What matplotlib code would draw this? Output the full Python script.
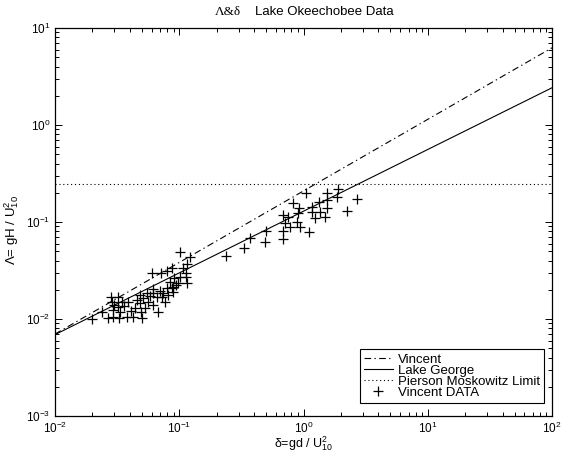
import matplotlib
matplotlib.use('Agg')
import matplotlib.pyplot as plt
import numpy as np

plt.rcParams['font.family'] = ['Liberation Sans', 'DejaVu Sans']
plt.rcParams['mathtext.fontset'] = 'custom'
plt.rcParams['mathtext.rm'] = 'Liberation Sans'
plt.rcParams['mathtext.it'] = 'Liberation Sans'

# fitted curves, read at the two ends of the x range
curve_x = [0.01, 100.0]
vincent_y = [0.0070, 6.25]
lake_george_y = [0.0069, 2.42]
pm_limit = 0.245

# Vincent DATA (delta, lambda)
data_delta = [
    0.0199, 0.0239, 0.0265, 0.0282, 0.0285, 0.0298, 0.0295, 0.0295, 0.0320, 0.0323,
    0.0327, 0.0334, 0.0359, 0.0344, 0.0378, 0.0389, 0.0409, 0.0427, 0.0441, 0.0455,
    0.0483, 0.0483, 0.0492, 0.0501, 0.0514, 0.0530, 0.0547, 0.0564, 0.0582, 0.0609,
    0.0618, 0.0618, 0.0618, 0.0658, 0.0678, 0.0713, 0.0700, 0.0722, 0.0744, 0.0768,
    0.0804, 0.0804, 0.0816, 0.0843, 0.0869, 0.0869, 0.0907, 0.0895, 0.0895, 0.0941,
    0.0982, 0.1005, 0.1078, 0.1148, 0.1133, 0.1123, 0.1148, 0.1014, 0.1220,
    0.238, 0.332, 0.371, 0.490, 0.499, 0.678, 0.687, 0.678, 0.757, 0.778,
    0.709, 0.828, 0.895, 0.921, 0.881, 0.938, 1.047, 1.114, 1.164, 1.181,
    1.238, 1.340, 1.358, 1.476, 1.537, 1.555, 1.537, 1.905, 1.845, 2.228, 2.671,
]
data_lambda = [
    0.0100, 0.01167, 0.01036, 0.01698, 0.01508, 0.01394, 0.01239, 0.01056, 0.01666, 0.01339,
    0.01036, 0.01190, 0.01361, 0.01508, 0.01061, 0.01508, 0.01195, 0.01056, 0.01290, 0.01570,
    0.01767, 0.01452, 0.01167, 0.01036, 0.01634, 0.01290, 0.01841, 0.01508, 0.01726, 0.02958,
    0.02023, 0.01841, 0.01394, 0.01666, 0.01190, 0.02958, 0.01945, 0.01698, 0.01841, 0.01508,
    0.03126, 0.02089, 0.01767, 0.02425, 0.03334, 0.02089, 0.02648, 0.02153, 0.01910, 0.02243,
    0.02333, 0.02679, 0.03334, 0.03688, 0.02958, 0.02679, 0.02333, 0.04909, 0.04355,
    0.0446, 0.0540, 0.0684, 0.0626, 0.0808, 0.0813, 0.0663, 0.1167, 0.1126, 0.0888,
    0.0984, 0.157, 0.124, 0.1385, 0.1007, 0.0878, 0.2005, 0.0794, 0.1438, 0.1268,
    0.1092, 0.1607, 0.1277, 0.1118, 0.141, 0.2005, 0.1686, 0.219, 0.1823, 0.1298, 0.1726,
]

fig = plt.figure(figsize=(5.67, 4.54), dpi=100)
ax = fig.add_axes([55 / 567, 1 - 416 / 454, 497 / 567, 388 / 454])

ax.loglog(curve_x, vincent_y, color='k', lw=0.8, dashes=(6, 3, 1.2, 3), label='Vincent')
ax.loglog(curve_x, lake_george_y, color='k', lw=0.8, label='Lake George')
ax.plot(curve_x, [pm_limit, pm_limit], color='k', lw=0.8, dashes=(1, 2.5),
        label='Pierson Moskowitz Limit')
ax.plot(data_delta, data_lambda, 'k+', ms=6.5, mew=0.9, label='Vincent DATA')

ax.set_xlim(1e-2, 1e2)
ax.set_ylim(1e-3, 1e1)

ax.tick_params(which='both', direction='in', top=True, right=True, labelsize=8.5, width=0.7)
ax.tick_params(which='major', length=5)
ax.tick_params(which='minor', length=3)
for s in ax.spines.values():
    s.set_linewidth(0.9)

ax.set_xlabel(r'$\delta$=gd / U$^2_{10}$', fontsize=9, labelpad=-1)
ax.set_ylabel(r'$\Lambda$= gH / U$^2_{10}$', fontsize=9.5)
ax.yaxis.set_label_coords(-0.068, 0.48)

fig.text(228 / 567, 1 - 12 / 454, 'Λ&δ', family='Liberation Serif', fontsize=9.5,
         ha='center', va='center')
fig.text(324 / 567, 1 - 12 / 454, 'Lake Okeechobee Data', fontsize=9.5,
         ha='center', va='center')

leg = ax.legend(loc='lower right', bbox_to_anchor=(0.984, 0.0335), borderaxespad=0,
                fontsize=9.5, labelspacing=-0.08, handlelength=2.2, handletextpad=0.4,
                borderpad=0.3, fancybox=False, framealpha=1, edgecolor='k')
leg.get_frame().set_linewidth(0.8)

fig.savefig('out.png', dpi=100)
